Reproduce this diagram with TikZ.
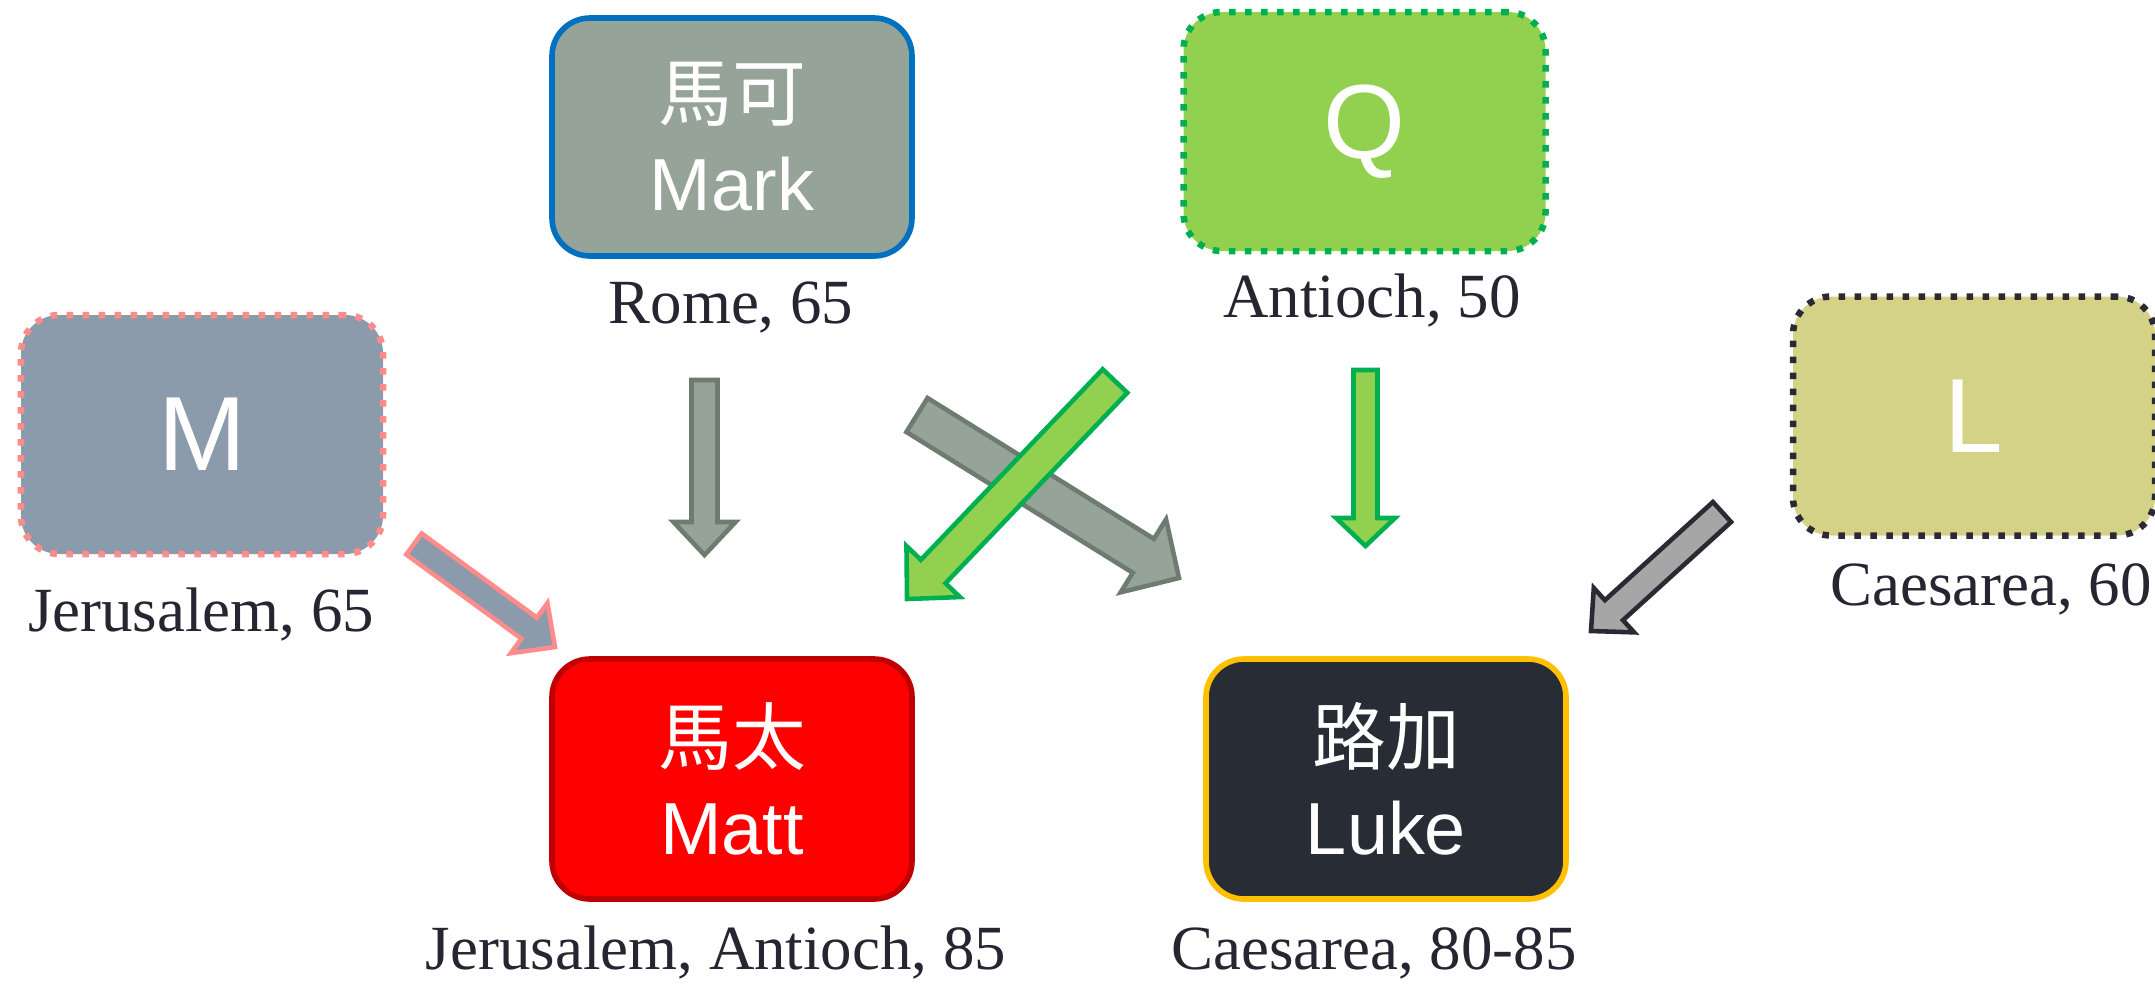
\documentclass[tikz,border=0pt]{standalone}
\usepackage{fontspec}
\setmainfont{Liberation Serif}
\newfontfamily\boxfont{Liberation Sans}
\newfontfamily\cjkfont{Noto Sans CJK TC}
\usetikzlibrary{calc,positioning}

\definecolor{markfill}{RGB}{149,163,152}
\definecolor{markedge}{RGB}{0,112,192}
\definecolor{mfill}{RGB}{140,155,171}
\definecolor{medge}{RGB}{255,139,139}
\definecolor{qfill}{RGB}{146,208,80}
\definecolor{qedge}{RGB}{0,176,80}
\definecolor{lfill}{RGB}{212,210,135}
\definecolor{ledge}{RGB}{42,42,53}
\definecolor{mattfill}{RGB}{255,0,0}
\definecolor{mattedge}{RGB}{192,0,0}
\definecolor{lukefill}{RGB}{39,44,53}
\definecolor{lukeedge}{RGB}{255,192,0}
\definecolor{placetext}{RGB}{38,38,50}
\definecolor{grayedge}{RGB}{110,123,112}
\definecolor{lgray}{RGB}{166,166,166}

\tikzset{
	gospel/.style={rectangle, rounded corners=0.38cm, line width=1.6pt, minimum width=3.6cm, minimum height=2.38cm, align=center, text=white, font=\boxfont\fontsize{21}{25.6}\selectfont},
	source/.style={gospel, line width=1.85pt, dash pattern=on 1.85pt off 2.7pt, minimum width=3.62cm, minimum height=2.39cm, font=\boxfont\fontsize{30}{36}\selectfont},
	place/.style={text=placetext, anchor=base, inner sep=0pt, font=\fontsize{17.9}{21}\selectfont},
	blockline/.style={line width=1.3pt, miter limit=10},
}

\newcommand{\blockarrow}[6]{
	\coordinate (BAbase) at ($(#3)!#6!(#2)$);
	\draw[blockline, #1] ($(#2)!#4!90:(#3)$) -- ($(BAbase)!#4!-90:(#2)$) -- ($(BAbase)!#5!-90:(#2)$) -- (#3) -- ($(BAbase)!#5!90:(#2)$) -- ($(BAbase)!#4!90:(#2)$) -- ($(#2)!#4!-90:(#3)$) -- cycle;
}

\begin{document}
\begin{tikzpicture}
\useasboundingbox (0,0) rectangle (21.55,-9.83);

% sources
\node[gospel, fill=markfill, draw=markedge] (mark) at (7.32,-1.37) {{\cjkfont 馬可}\\Mark};
\node[source, fill=qfill, draw=qedge] (q) at (13.645,-1.315) {Q};
\node[source, fill=mfill, draw=medge] (m) at (2.02,-4.345) {M};
\node[source, fill=lfill, draw=ledge] (l) at (19.74,-4.16) {L};

% gospels
\node[gospel, fill=mattfill, draw=mattedge, minimum height=2.4cm] (matt) at (7.32,-7.79) {{\cjkfont 馬太}\\Matt};
\node[gospel, fill=lukefill, draw=lukeedge, minimum height=2.4cm] (luke) at (13.86,-7.79) {{\cjkfont 路加}\\Luke};

% places and dates
\node[place] (markplace) at (7.31,-3.23) {Rome, 65};
\node[place] (qplace) at (13.72,-3.17) {Antioch, 50};
\node[place] (mplace) at (2.01,-6.31) {Jerusalem, 65};
\node[place] (lplace) at (19.91,-6.05) {Caesarea, 60};
\node[place] (mattplace) at (7.16,-9.69) {Jerusalem, Antioch, 85};
\node[place] (lukeplace) at (13.74,-9.69) {Caesarea, 80-85};

% arrow ends
\coordinate (mkA) at (7.045,-3.80);
\coordinate (mkB) at (7.045,-5.55);
\coordinate (mlA) at (9.17,-4.15);
\coordinate (mlB) at (11.79,-5.78);
\coordinate (qmA) at (11.15,-3.81);
\coordinate (qmB) at (9.07,-5.99);
\coordinate (qlA) at (13.655,-3.70);
\coordinate (qlB) at (13.655,-5.46);
\coordinate (mmA) at (4.14,-5.44);
\coordinate (mmB) at (5.55,-6.47);
\coordinate (llA) at (17.22,-5.12);
\coordinate (llB) at (15.91,-6.31);

\blockarrow{fill=markfill, draw=grayedge}{mkA}{mkB}{0.13cm}{0.31cm}{0.33cm}
\blockarrow{fill=markfill, draw=grayedge}{mlA}{mlB}{0.20cm}{0.43cm}{0.42cm}
\blockarrow{fill=qfill, draw=qedge}{qmA}{qmB}{0.17cm}{0.37cm}{0.38cm}
\blockarrow{fill=qfill, draw=qedge}{qlA}{qlB}{0.12cm}{0.295cm}{0.28cm}
\blockarrow{fill=mfill, draw=medge}{mmA}{mmB}{0.13cm}{0.31cm}{0.32cm}
\blockarrow{fill=lgray, draw=ledge}{llA}{llB}{0.135cm}{0.30cm}{0.31cm}
\end{tikzpicture}
\end{document}
